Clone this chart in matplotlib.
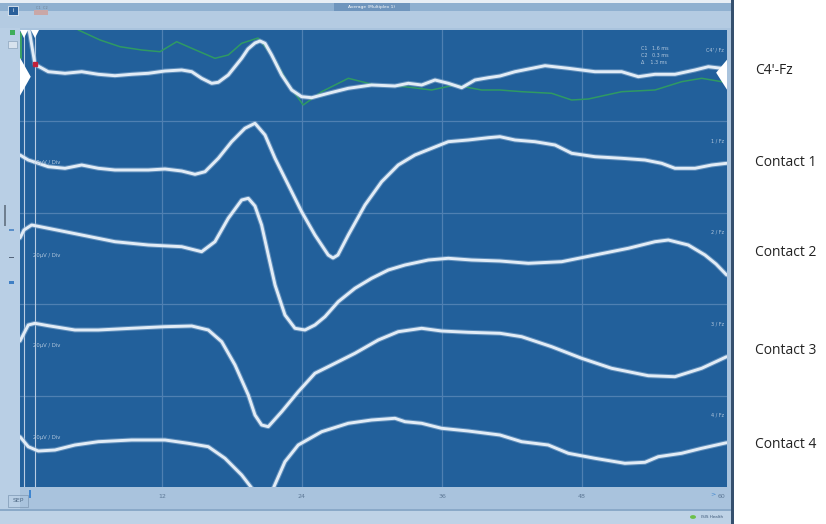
import matplotlib
matplotlib.use("Agg")
import matplotlib.pyplot as plt
from matplotlib.patches import Rectangle, Polygon

# ---------------- data (time in ms, amplitude in display units, + = up) ----------------
c4_t = [0.43, 0.69, 1.11, 2.25, 3.69, 5.12, 6.54, 7.97, 9.40, 10.83, 12.26, 13.69, 14.55, 15.40,
        16.26, 16.83, 17.68, 18.83, 19.37, 19.97, 20.40, 20.83, 21.40, 22.26, 23.12, 23.97, 24.83,
        26.25, 27.97, 29.97, 31.97, 33.11, 34.26, 35.40, 36.54, 37.69, 38.83, 39.97, 40.97, 42.26,
        44.83, 46.83, 49.11, 51.40, 52.83, 54.26, 55.97, 57.69, 58.83, 59.97]
c4_v = [55.7, 40.7, 11.4, 4.0, 2.4, 4.0, 1.4, 0.0, 1.4, 2.4, 4.7, 5.7, 4.0, -2.6,
        -7.6, -6.6, 0.7, 17.4, 26.7, 32.7, 34.7, 32.4, 20.7, 0.7, -14.3, -21.0, -22.0,
        -17.6, -12.6, -9.3, -10.3, -7.6, -9.3, -4.3, -7.6, -12.0, -4.3, -2.0, -0.3, 4.0,
        10.0, 7.4, 4.0, 4.0, -1.0, 1.4, 1.4, 5.7, 9.0, 7.4]

ref_t = [4.46, 4.83, 6.69, 8.40, 10.26, 11.83, 13.26, 14.55, 16.54, 17.68, 18.83, 20.23, 21.51,
         22.97, 24.11, 25.69, 27.97, 30.26, 32.83, 35.11, 37.11, 39.40, 40.97, 42.83, 45.40,
         47.11, 48.54, 51.40, 54.26, 56.54, 58.26, 59.97]
ref_v = [50.7, 45.7, 35.7, 29.0, 25.7, 24.0, 34.0, 27.4, 17.4, 20.7, 32.4, 37.7, 19.0,
         -11.0, -29.3, -16.0, -2.6, -9.3, -11.0, -14.3, -9.3, -14.3, -14.3, -16.0, -17.6,
         -24.3, -23.3, -16.0, -14.3, -6.0, -2.6, -6.0]

k1_t = [-0.17, 0.54, 1.40, 2.25, 3.69, 5.12, 6.54, 7.97, 9.40, 10.83, 12.26, 13.69, 14.83, 15.69,
        16.83, 17.97, 19.11, 19.97, 20.83, 21.69, 22.83, 23.97, 25.11, 26.25, 26.66, 27.08, 27.97,
        29.40, 30.83, 32.25, 33.68, 35.12, 36.54, 38.25, 39.97, 40.97, 42.26, 43.97, 45.69, 47.12,
        49.11, 51.40, 53.40, 54.83, 55.97, 57.69, 59.12, 60.40]
k1_v = [12.1, 7.1, 3.8, 0.4, -1.2, 2.1, -1.2, -2.9, -2.9, -2.9, -1.9, -3.9, -7.2, -4.6,
        8.8, 25.4, 38.8, 43.8, 32.1, 8.8, -17.9, -44.6, -67.9, -87.9, -90.9, -87.9, -67.9,
        -37.9, -14.6, 2.1, 12.1, 18.8, 25.4, 27.1, 29.4, 30.4, 27.1, 25.4, 22.1, 13.8,
        10.4, 8.8, 7.1, 3.8, -1.2, -1.2, 2.1, 3.8]

k2_t = [-0.17, 0.17, 0.83, 2.25, 5.12, 7.97, 10.83, 13.69, 15.40, 16.54, 17.68, 18.83, 19.40,
        19.97, 20.54, 21.11, 21.69, 22.54, 23.40, 24.26, 25.11, 25.97, 27.11, 28.54, 29.97,
        31.40, 32.83, 34.83, 36.54, 38.54, 40.97, 43.40, 46.26, 49.11, 51.97, 54.26, 55.40,
        57.11, 58.54, 59.49, 60.40]
k2_v = [20.5, 28.5, 33.5, 30.2, 23.5, 16.8, 13.5, 11.8, 6.8, 16.8, 40.2, 58.5, 60.2,
        52.5, 33.5, 3.5, -26.5, -56.5, -69.8, -71.5, -66.5, -58.2, -43.2, -29.8, -19.8,
        -11.5, -6.5, -1.5, 0.2, -1.5, -2.5, -4.8, -3.2, 3.5, 10.2, 16.8, 18.5,
        13.5, 3.5, -5.5, -16.5]

k3_t = [-0.17, 0.54, 1.11, 2.25, 4.54, 6.54, 9.40, 12.26, 14.55, 15.97, 17.12, 18.26, 19.40,
        19.97, 20.54, 21.11, 22.26, 23.68, 25.11, 26.54, 28.54, 30.54, 32.25, 34.26, 35.97,
        38.25, 40.97, 42.83, 45.40, 47.97, 50.54, 53.68, 55.97, 58.26, 60.40]
k3_v = [8.9, 24.9, 26.6, 24.2, 19.9, 19.9, 21.6, 23.2, 23.9, 19.9, 8.2, -15.1, -45.1,
        -65.1, -75.1, -76.8, -61.8, -41.8, -23.4, -15.1, -3.4, 9.9, 18.2, 21.6, 18.9,
        17.6, 16.6, 13.2, 3.2, -8.4, -18.4, -25.8, -26.8, -18.4, -6.8]

k4_t = [-0.17, 0.54, 1.40, 2.83, 4.54, 6.54, 9.40, 12.26, 14.25, 15.97, 17.40, 18.83, 19.69,
        20.57, 21.54, 22.54, 23.68, 25.69, 27.97, 29.97, 31.97, 32.83, 34.26, 35.97, 38.25,
        40.97, 42.83, 45.11, 46.83, 49.11, 51.68, 53.40, 54.54, 56.54, 58.26, 60.40]
k4_v = [4.6, -5.4, -9.7, -8.7, -3.7, -0.4, 1.3, 1.3, -2.0, -5.4, -17.0, -33.7, -46.7,
        -63.7, -47.0, -20.4, -3.7, 9.6, 18.0, 21.3, 23.0, 19.6, 18.0, 13.0, 10.3,
        6.3, -0.4, -3.7, -12.0, -17.0, -22.0, -21.0, -15.4, -12.0, -7.0, -1.4]

channel_names = ["C4'-Fz", "Contact 1", "Contact 2", "Contact 3", "Contact 4"]
trace_labels = ["C4' / Fz", "1 / Fz", "2 / Fz", "3 / Fz", "4 / Fz"]
scale_label = "20\u00b5V / Div"
x_ticks = [12, 24, 36, 48, 60]
cursor_text = ["C1   1.6 ms", "C2   0.3 ms", "\u0394    1.3 ms"]

# ---------------- figure ----------------
W, H = 826, 524
fig = plt.figure(figsize=(W / 100, H / 100), dpi=100)
fig.patch.set_facecolor("white")


def frect(x0, y0, x1, y1, **kw):
    """rectangle in pixel coords (origin top-left)"""
    fig.patches.append(Rectangle((x0 / W, 1 - y1 / H), (x1 - x0) / W, (y1 - y0) / H,
                                 transform=fig.transFigure, figure=fig, **kw))


def ftext(x, y, s, **kw):
    fig.text(x / W, 1 - y / H, s, **kw)


# window frame
frect(0, 0, 733, 524, facecolor="#a9c3dd", edgecolor="none", zorder=0)
frect(0, 0, 733, 3, facecolor="#e8eef5", edgecolor="none", zorder=1)
frect(0, 3, 733, 11, facecolor="#8fb0d0", edgecolor="none", zorder=1)
frect(0, 11, 733, 28, facecolor="#b4cbe2", edgecolor="none", zorder=1)
frect(334, 3, 410, 11, facecolor="#6f95bd", edgecolor="none", zorder=2)
ftext(372, 7, "Average (Multiplex 1)", fontsize=3.2, color="white", ha="center", va="center", zorder=3)
frect(0, 510, 733, 524, facecolor="#bed2e6", edgecolor="none", zorder=1)
frect(0, 509, 733, 510.5, facecolor="#8aa9c8", edgecolor="none", zorder=2)
frect(731, 0, 734, 524, facecolor="#35506e", edgecolor="none", zorder=2)
frect(0, 28, 20, 510, facecolor="#b9cfe5", edgecolor="none", zorder=1)
frect(8, 6, 18, 15, facecolor="#2a5f99", edgecolor="white", linewidth=0.5, zorder=3)
ftext(13, 10.5, "i", fontsize=4, color="white", ha="center", va="center", zorder=4)
frect(10, 30, 15, 35, facecolor="#3fae5a", edgecolor="none", zorder=3)
frect(8, 41, 17, 48, facecolor="#d8e3ee", edgecolor="#7d97b3", linewidth=0.4, zorder=3)
frect(4, 205, 6, 226, facecolor="#6f7f90", edgecolor="none", zorder=3)
frect(9, 229, 14, 231, facecolor="#5a8fc9", edgecolor="none", zorder=3)
frect(9, 257, 14, 258, facecolor="#55657a", edgecolor="none", zorder=3)
frect(9, 281, 14, 284, facecolor="#3f7fc4", edgecolor="none", zorder=3)
frect(34, 10, 48, 15, facecolor="#c9a7a7", edgecolor="none", zorder=3)
ftext(42, 8, "C1  C2", fontsize=2.5, color="#6d7f94", ha="center", va="center", zorder=4)
ftext(18, 501, "SEP", fontsize=4.5, color="#4f6a86", ha="center", va="center", zorder=4)
frect(8, 495, 28, 507, facecolor="none", edgecolor="#7d97b3", linewidth=0.5, zorder=3)
fig.patches.append(plt.Circle((693 / W, 1 - 517 / H), 3 / W, transform=fig.transFigure,
                              figure=fig, facecolor="#6cc04a", edgecolor="none", zorder=3))
ftext(712, 517, "ISIS Health", fontsize=3, color="#3d5878", ha="center", va="center", zorder=4)
# small cursor markers on the time ruler
frect(29, 490, 31, 498, facecolor="#3f86d0", edgecolor="none", zorder=3)
ftext(713, 494, ">", fontsize=4.5, color="#3f86d0", ha="center", va="center", zorder=4)

# ---------------- main plot ----------------
L, R, T, B = 20, 727, 30, 487
ax = fig.add_axes([L / W, 1 - B / H, (R - L) / W, (B - T) / H])
ax.set_zorder(10)
ax.set_facecolor("#22609b")
ax.set_xlim(-0.17, 60.43)
n_rows = len(channel_names)
row_h = 91.4
ax.set_ylim(0, row_h * n_rows)
for s in ax.spines.values():
    s.set_visible(False)
ax.set_yticks([])
ax.set_xticks(x_ticks)
ax.set_xticklabels([str(v) for v in x_ticks], fontsize=4.5, color="#5d7896")
ax.tick_params(axis="x", length=0, pad=5)

grid_col = "#4f80b2"
for xv in x_ticks[:-1]:
    ax.axvline(xv, color=grid_col, lw=0.9, zorder=1)
for i in range(1, n_rows):
    ax.axhline(i * row_h, color=grid_col, lw=0.9, zorder=1)

# cursor lines
for cx in [0.17, 1.11]:
    ax.axvline(cx, color="#b9cde3", lw=0.8, zorder=2)

offsets = [row_h * (n_rows - i - 0.5) for i in range(n_rows)]
traces = [(c4_t, c4_v), (k1_t, k1_v), (k2_t, k2_v), (k3_t, k3_v), (k4_t, k4_v)]

ax.plot(ref_t, [v + offsets[0] for v in ref_v], color="#2f9a63", lw=1.1, zorder=3)
for (t, v), off in zip(traces, offsets):
    ax.plot(t, [val + off for val in v], color="#8fb1d3", lw=3.6, alpha=0.55, zorder=4,
            solid_joinstyle="round", solid_capstyle="round")
    ax.plot(t, [val + off for val in v], color="#e2ecf6", lw=2.1, zorder=4,
            solid_joinstyle="round", solid_capstyle="round")

# green marker at left
ax.plot([-0.1, -0.1], [offsets[0] + 18, offsets[0] + 43], color="#3fae5a", lw=1.2, zorder=3)
# red cursor point
ax.plot([1.11], [offsets[0] + 11.4], marker="s", ms=3, color="#c0203a", zorder=5)

# channel labels inside plot (upper right of each row)
for lab, off in zip(trace_labels, offsets):
    ax.text(60.2, off + 26, lab, fontsize=3.5, color="#b3c8de", ha="right", va="center", zorder=5)
# amplitude scale labels (left of rows 1-4)
for off, dy in zip(offsets[1:], [5, 3.5, 4, 4]):
    ax.text(0.95, off + dy, scale_label, fontsize=3.8, color="#b3c8de",
            ha="left", va="center", zorder=5)
# cursor info
for j, s in enumerate(cursor_text):
    ax.text(53.1, offsets[0] + 27 - j * 7, s, fontsize=3.5, color="#b3c8de",
            ha="left", va="center", zorder=5)

# triangles (channel / cursor markers)
ax.add_patch(Polygon([[-0.17, offsets[0] + 18], [-0.17, offsets[0] - 20], [0.75, offsets[0] - 1]],
                     closed=True, facecolor="white", edgecolor="none", zorder=6, clip_on=False))
ax.add_patch(Polygon([[60.43, offsets[0] + 16], [60.43, offsets[0] - 14], [59.5, offsets[0] + 3]],
                     closed=True, facecolor="white", edgecolor="none", zorder=6, clip_on=False))
for cx in [0.17, 1.11]:
    ax.add_patch(Polygon([[cx - 0.35, row_h * n_rows], [cx + 0.35, row_h * n_rows],
                          [cx, row_h * n_rows - 8]],
                         closed=True, facecolor="white", edgecolor="none", zorder=6))

# right-hand channel names
name_y = [70, 163, 252, 351, 444]
for name, yp in zip(channel_names, name_y):
    ftext(755, yp, name, fontsize=10, family="Open Sans", color="#222222",
          ha="left", va="center")

fig.savefig("out.png", dpi=100, facecolor=fig.get_facecolor())
